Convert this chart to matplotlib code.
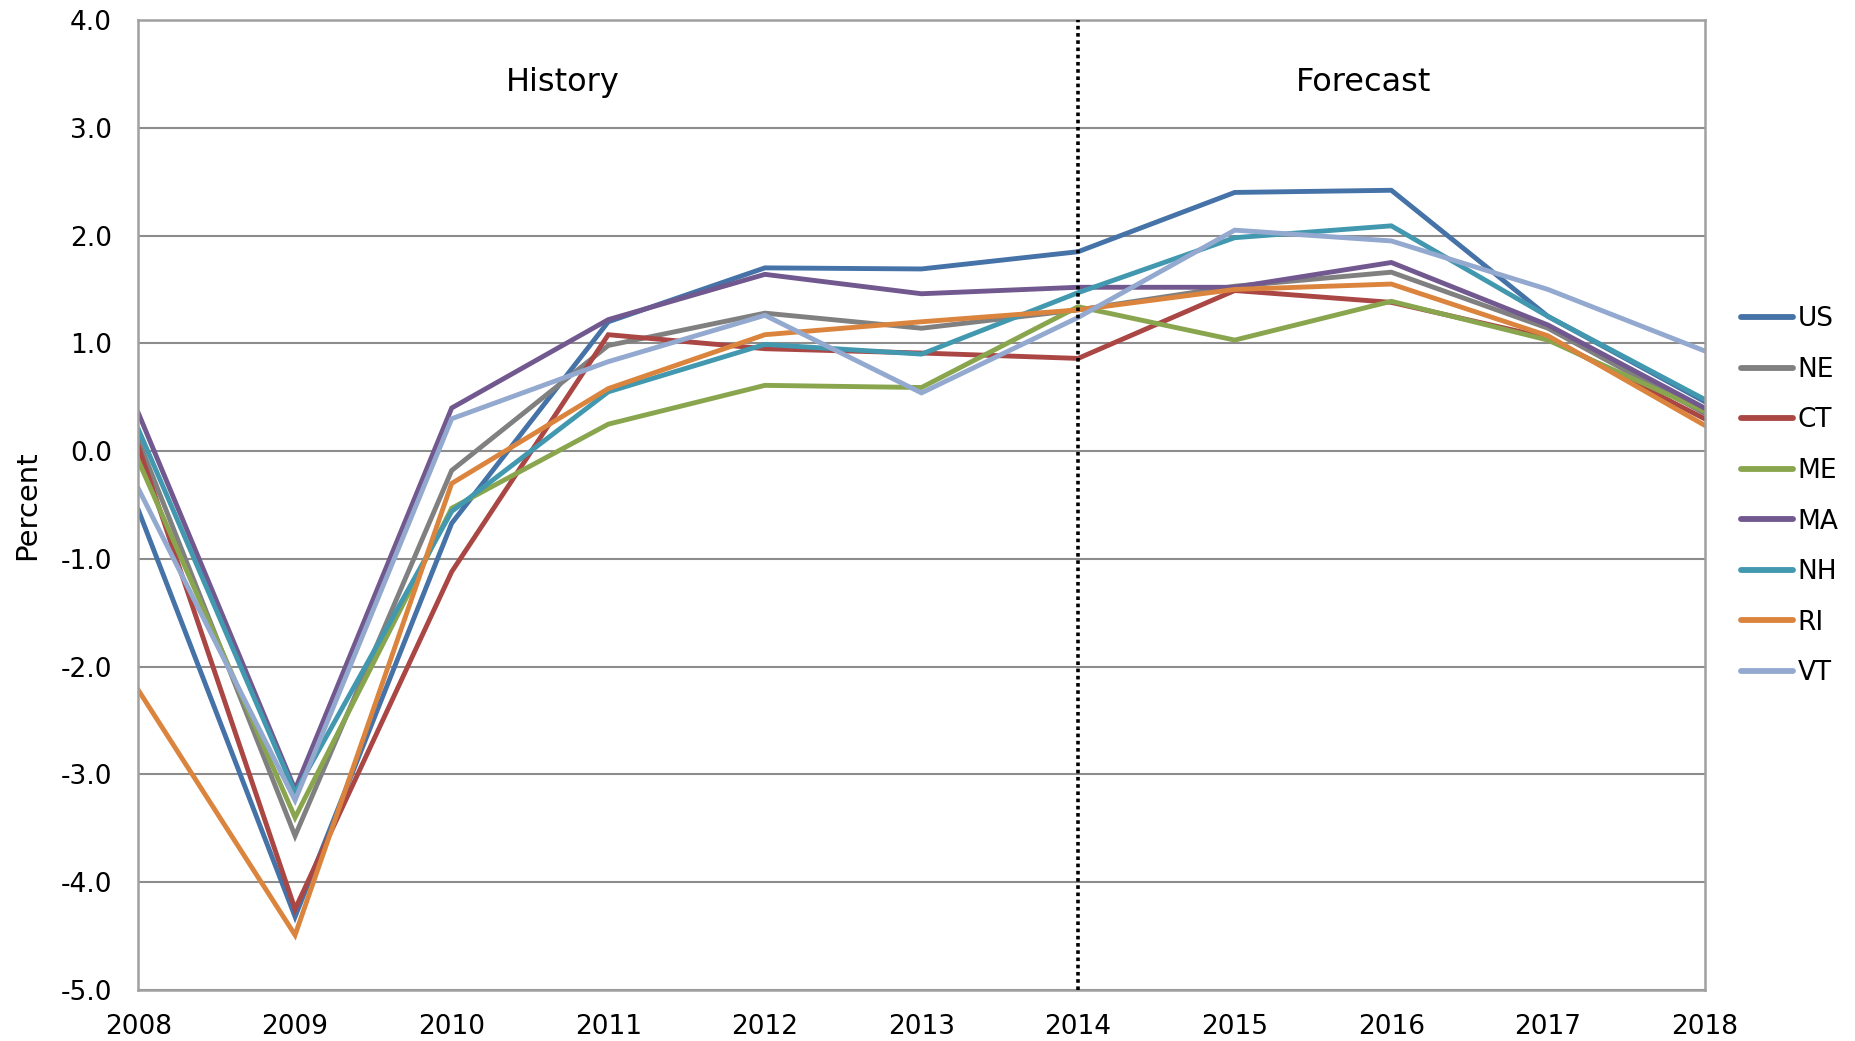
import matplotlib
matplotlib.use("Agg")
import matplotlib.pyplot as plt
from matplotlib.ticker import FormatStrFormatter

# data (annual growth, percent)
years = [2008, 2009, 2010, 2011, 2012, 2013, 2014, 2015, 2016, 2017, 2018]
us = [-0.55, -4.32, -0.67, 1.20, 1.70, 1.69, 1.85, 2.40, 2.42, 1.25, 0.46]
ne = [0.10, -3.57, -0.18, 0.98, 1.28, 1.14, 1.31, 1.53, 1.66, 1.14, 0.35]
ct = [0.04, -4.25, -1.12, 1.08, 0.95, 0.91, 0.86, 1.49, 1.38, 1.05, 0.30]
me = [-0.09, -3.40, -0.53, 0.25, 0.61, 0.59, 1.34, 1.03, 1.39, 1.03, 0.37]
ma = [0.35, -3.14, 0.40, 1.22, 1.64, 1.46, 1.52, 1.52, 1.75, 1.17, 0.40]
nh = [0.20, -3.17, -0.56, 0.55, 0.99, 0.90, 1.47, 1.98, 2.09, 1.25, 0.48]
ri = [-2.22, -4.49, -0.30, 0.58, 1.08, 1.20, 1.31, 1.50, 1.55, 1.07, 0.24]
vt = [-0.35, -3.24, 0.30, 0.83, 1.26, 0.54, 1.24, 2.05, 1.95, 1.50, 0.93]

labels = ["US", "NE", "CT", "ME", "MA", "NH", "RI", "VT"]
colors = ["#4572A7", "#808080", "#AA4643", "#89A54E",
          "#71588F", "#4198AF", "#DB843D", "#93A9CF"]

plt.rcParams['font.family'] = ['DejaVu Sans']
plt.rcParams['axes.unicode_minus'] = False

fig = plt.figure(figsize=(18.56, 10.41), dpi=100)
ax = fig.add_axes([0.0746, 0.049, 0.8438, 0.9318])

for vals, lab, col in zip([us, ne, ct, me, ma, nh, ri, vt], labels, colors):
    ax.plot(years, vals, color=col, lw=3.5, label=lab, solid_joinstyle='miter')

# history / forecast split
ax.axvline(2014, color='black', ls=(0, (1, 1)), lw=2.6, zorder=5)
ax.text(2010.71, 3.42, "History", fontsize=23, ha='center', va='center')
ax.text(2015.82, 3.42, "Forecast", fontsize=23, ha='center', va='center')

ax.set_xlim(2008, 2018)
ax.set_ylim(-5, 4)
ax.set_xticks(years)
ax.set_yticks(range(-5, 5))
ax.yaxis.set_major_formatter(FormatStrFormatter('%.1f'))
ax.tick_params(axis='both', length=0, labelsize=19)
ax.tick_params(axis='x', pad=17)
ax.tick_params(axis='y', pad=19)
ax.grid(axis='y', color='#8c8c8c', lw=1.5)
ax.set_axisbelow(True)
for s in ax.spines.values():
    s.set_color('#a0a0a0')
    s.set_linewidth(1.8)

ax.set_ylabel("Percent", fontsize=21, labelpad=14)

leg = ax.legend(loc='center left', bbox_to_anchor=(1.0, 0.509), frameon=False,
                fontsize=19, handlelength=1.97, handletextpad=0.15,
                labelspacing=0.93, borderaxespad=1.0)
for h in leg.get_lines():
    h.set_linewidth(4.2)
    h.set_solid_capstyle('round')

plt.savefig('out.png', dpi=100)
